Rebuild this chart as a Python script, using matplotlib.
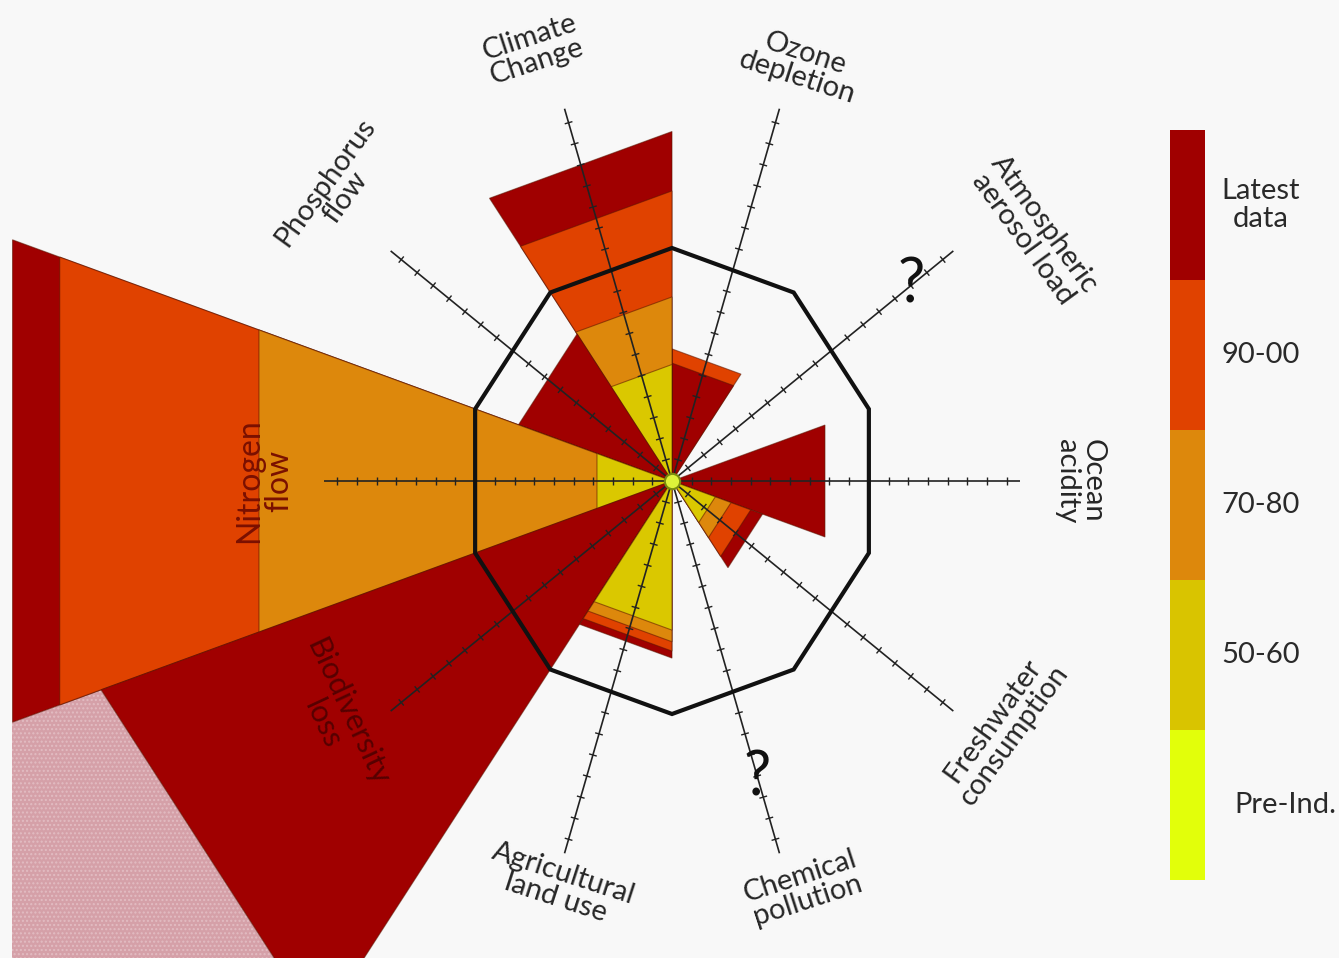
import numpy as np
import matplotlib
matplotlib.use("Agg")
import matplotlib.pyplot as plt
from matplotlib.patches import Polygon, Rectangle
from matplotlib.collections import LineCollection
from matplotlib.colors import ListedColormap, BoundaryNorm
import matplotlib.cm as cm

# ---------------- data ----------------
categories = ["Ocean\nacidity", "Atmospheric\naerosol load", "Ozone\ndepletion",
              "Climate\nChange", "Phosphorus\nflow", "Nitrogen\nflow",
              "Biodiversity\nloss", "Agricultural\nland use", "Chemical\npollution",
              "Freshwater\nconsumption"]
# radial extent of each period (safe boundary = 1); None = not quantified
r_5060   = [0.0,   None, 0.0,   0.50,  0.0,  0.381, 0.0, 0.64, None, 0.22]
r_7080   = [0.0,   None, 0.0,   0.79,  0.0,  2.098, 0.0, 0.69, None, 0.30]
r_9000   = [0.0,   None, 0.567, 1.245, 0.0,  3.11,  0.0, 0.73, None, 0.40]
r_latest = [0.777, None, 0.506, 1.50,  0.78, 3.35,  2.9, 0.76, None, 0.46]
r_offchart = [None, None, None, None, None, None, 9.0, None, None, None]

legend_labels = ["Pre-Ind.", "50-60", "70-80", "90-00", "Latest\ndata"]
legend_colors = ["#E2FF0A", "#D9C400", "#DD880C", "#E04200", "#A00000"]
period_colors = ["#DAC800", "#DD880C", "#E04200", "#A00000"]

# ---------------- layout ----------------
W, H = 1339, 958
cx, cy = 672, 481      # pixel position of centre
sx, sy = 207, 233      # pixels per unit radius
left_margin_px = 12
n = len(categories)
step = 360.0 / n
half = step / 2

fig = plt.figure(figsize=(W / 100, H / 100), dpi=100)
fig.patch.set_facecolor("#F8F8F8")
ax = fig.add_axes([0, 0, 1, 1])
ax.set_facecolor("#F8F8F8")
xmin, xmax = -cx / sx, (W - cx) / sx
ymin, ymax = -(H - cy) / sy, cy / sy
ax.set_xlim(xmin, xmax)
ax.set_ylim(ymin, ymax)
ax.axis("off")

FONT = ["Lato", "DejaVu Sans"]

# clip region (picture has a thin blank margin on the left)
clip_rect = Rectangle((xmin + left_margin_px / sx, ymin), xmax - xmin, ymax - ymin,
                      transform=ax.transData, visible=False)
ax.add_patch(clip_rect)


def pol(r, a):
    t = np.radians(a)
    return r * np.cos(t), r * np.sin(t)


def triangle(r, a0, a1):
    return [(0, 0), pol(r, a0), pol(r, a1)]


# off-chart (hatched) extension
for i, ro in enumerate(r_offchart):
    if ro is None:
        continue
    a = i * step
    rin = r_latest[i]
    pts = [pol(rin, a - half), pol(ro, a - half), pol(ro, a + half), pol(rin, a + half)]
    p = Polygon(pts, closed=True, facecolor="#D5A0A8", edgecolor="#E2BCC2",
                hatch="....", lw=0, zorder=1.5)
    ax.add_patch(p)
    p.set_clip_path(clip_rect)

# wedges: draw largest first so smaller periods stay visible
for i in range(n):
    a = i * step
    bands = []
    for vals, col in zip([r_5060, r_7080, r_9000, r_latest], period_colors):
        v = vals[i]
        if v is not None and v > 0:
            bands.append((v, col))
    bands.sort(key=lambda b: -b[0])
    for v, col in bands:
        p = Polygon(triangle(v, a - half, a + half), closed=True,
                    facecolor=col, edgecolor=(0.35, 0.08, 0.0, 0.55),
                    lw=0.8, zorder=2)
        ax.add_patch(p)
        p.set_clip_path(clip_rect)

# boundary decagon
verts = [pol(1.0, k * step + half) for k in range(n)]
ax.add_patch(Polygon(verts, closed=True, fill=False, edgecolor="#111111",
                     lw=3.0, zorder=5, joinstyle="miter"))

# spokes with ticks
spoke_len = 1.68
tick_step = np.cos(np.radians(half)) / 10
tick_half_px = 4.0
segs = []
for i in range(n):
    a = i * step
    t = np.radians(a)
    ax.plot([0, spoke_len * np.cos(t)], [0, spoke_len * np.sin(t)],
            color="#222222", lw=1.2, zorder=4, solid_capstyle="butt")
    dx, dy = np.cos(t) * sx, np.sin(t) * sy
    L = np.hypot(dx, dy)
    nx, ny = -dy / L * tick_half_px / sx, dx / L * tick_half_px / sy
    for k in range(1, int(spoke_len / tick_step) + 1):
        px, py = pol(k * tick_step, a)
        segs.append([(px - nx, py - ny), (px + nx, py + ny)])
ax.add_collection(LineCollection(segs, colors="#222222", linewidths=1.0, zorder=4))

# pre-industrial centre
ax.plot(0, 0, "o", ms=11, mfc="#DDF23A", mec="#7A8A10", mew=1.5, zorder=7)

# unknown boundaries
q_r = {1: 1.43, 8: 1.34}
for i in range(n):
    if r_latest[i] is None:
        x, y = pol(q_r.get(i, 1.4), i * step)
        ax.text(x, y, "?", fontsize=44, ha="center", va="center",
                family=FONT, color="#111111", zorder=8)

# category labels
label_pos = {0: (1.97, 0), 1: (2.05, 31.5), 2: (1.89, 70.7), 3: (1.97, 109.9),
             4: (2.05, 142.5), 5: (1.97, 180), 6: (1.92, 212), 7: (1.82, 252.6),
             8: (1.86, -70), 9: (1.92, -33.5)}
for i, lab in enumerate(categories):
    r, a = label_pos[i]
    x, y = pol(r, a)
    rot = (i * step) - 90
    if rot > 90:
        rot -= 180
    if rot < -90:
        rot += 180
    col, fs = "#262626", 21
    if i == 5:
        col, fs = "#7A1000", 23
    if i == 6:
        col, fs = "#560000", 22
        rot = -65
    ax.text(x, y, lab, rotation=rot, rotation_mode="anchor", ha="center",
            va="center", multialignment="center", fontsize=fs, family=FONT,
            color=col, zorder=9, linespacing=1.0)

# colour legend bar
cax = fig.add_axes([1170 / W, 1 - 880 / H, 35 / W, 750 / H])
cmap = ListedColormap(legend_colors)
norm = BoundaryNorm(np.arange(len(legend_colors) + 1), cmap.N)
cb = fig.colorbar(cm.ScalarMappable(norm=norm, cmap=cmap), cax=cax)
cb.outline.set_visible(False)
cb.set_ticks([])
cax.yaxis.set_ticks([], minor=True)
cax.tick_params(which="both", length=0, labelright=False, labelleft=False)
seg_h = 750 / len(legend_colors)
for k, lab in enumerate(legend_labels):
    ypx = 880 - (k + 0.5) * seg_h
    xpx = 1285 if lab.startswith("Pre") else 1261
    fig.text(xpx / W, 1 - ypx / H, lab, ha="center", va="center",
             multialignment="center", fontsize=21, family=FONT, color="#2A2A2A",
             linespacing=1.1)

fig.savefig("out.png", dpi=100, facecolor=fig.get_facecolor())
